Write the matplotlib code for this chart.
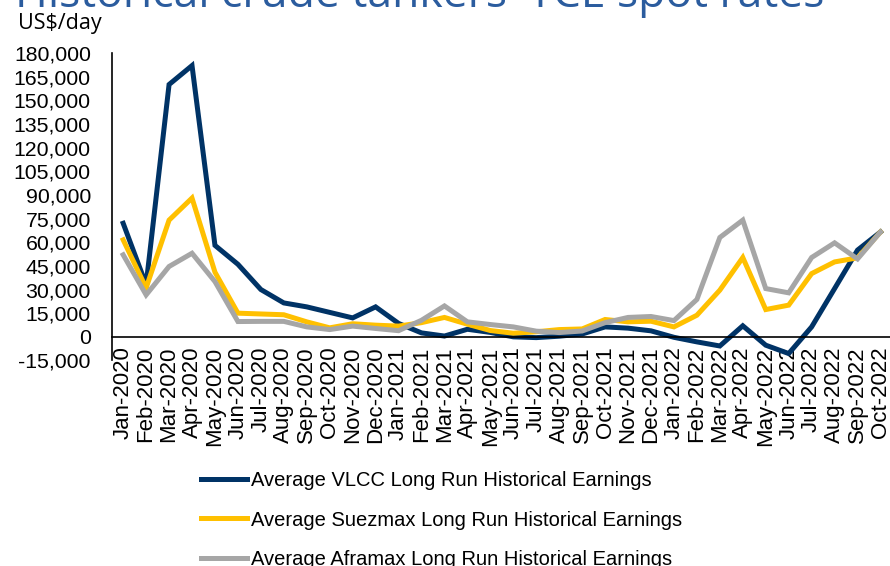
import matplotlib
matplotlib.use("Agg")
import matplotlib.pyplot as plt
from matplotlib.ticker import FuncFormatter

months = ["Jan-2020", "Feb-2020", "Mar-2020", "Apr-2020", "May-2020", "Jun-2020",
          "Jul-2020", "Aug-2020", "Sep-2020", "Oct-2020", "Nov-2020", "Dec-2020",
          "Jan-2021", "Feb-2021", "Mar-2021", "Apr-2021", "May-2021", "Jun-2021",
          "Jul-2021", "Aug-2021", "Sep-2021", "Oct-2021", "Nov-2021", "Dec-2021",
          "Jan-2022", "Feb-2022", "Mar-2022", "Apr-2022", "May-2022", "Jun-2022",
          "Jul-2022", "Aug-2022", "Sep-2022", "Oct-2022"]

vlcc = [72000, 33000, 160000, 172000, 58000, 46000, 30000, 21500, 19000, 15500,
        12000, 19000, 8500, 2500, 500, 4800, 2800, 0, -500, 400,
        1800, 6300, 5500, 3800, -300, -3200, -5800, 7000, -5300, -10600,
        6300, 30600, 55000, 66500]
suezmax = [61500, 31000, 74000, 88000, 41000, 15000, 14500, 14000, 9500, 5700,
           8300, 7400, 6800, 9000, 12300, 8000, 4000, 2300, 3200, 4600,
           5000, 11000, 9500, 9900, 6300, 13700, 29600, 50300, 17300, 20100,
           40100, 47500, 50100, 66500]
aframax = [52000, 26600, 44600, 53000, 35000, 9700, 9800, 9800, 6300, 4600,
           6800, 5300, 3900, 10500, 19600, 9500, 7800, 6300, 3600, 2700,
           3700, 9000, 12300, 12900, 10300, 23700, 63000, 74000, 30600, 27900,
           50300, 59600, 49400, 66500]

labels = ["Average VLCC Long Run Historical Earnings",
          "Average Suezmax Long Run Historical Earnings",
          "Average Aframax Long Run Historical Earnings"]
colors = ["#003366", "#FFC000", "#A6A6A6"]

plt.rcParams["font.family"] = ["Liberation Sans", "DejaVu Sans"]

fig = plt.figure(figsize=(8.9, 5.66), dpi=100)
ax = fig.add_axes([0.1255, 0.3631, 0.8767, 0.5433])

x = range(len(months))
for ys, lab, c in zip([vlcc, suezmax, aframax], labels, colors):
    ax.plot(x, ys, color=c, lw=3.6, label=lab, solid_joinstyle="miter")

ax.set_xlim(-0.5, len(months) - 0.5)
ax.set_ylim(-15000, 180000)
ax.set_yticks(range(-15000, 180001, 15000))
ax.yaxis.set_major_formatter(FuncFormatter(lambda v, p: f"{int(v):,}"))
ax.set_xticks(list(x))
ax.set_xticklabels(months)

ax.spines["top"].set_visible(False)
ax.spines["right"].set_visible(False)
ax.spines["bottom"].set_position(("data", 0))
ax.spines["bottom"].set_linewidth(1.2)
ax.spines["left"].set_linewidth(1.2)
ax.tick_params(axis="y", length=0, pad=15, labelsize=15.3)
ax.tick_params(axis="x", length=0, pad=7, labelsize=16, labelrotation=90)

fig.text(15 / 890, 1 - 7 / 566, "Historical crude tankers' TCE spot rates",
         fontsize=32, color="#2B5C9E", family="Open Sans", va="baseline")
fig.text(18 / 890, 1 - 23 / 566, "US$/day", fontsize=15.5, family="Open Sans",
         va="center")

fig.legend(loc="upper left", bbox_to_anchor=(201 / 890, 1 - 471 / 566),
           frameon=False, fontsize=14.5, handlelength=2.3, handletextpad=0.2,
           labelspacing=1.02, borderpad=0, borderaxespad=0)

fig.savefig("out.png", dpi=100)
